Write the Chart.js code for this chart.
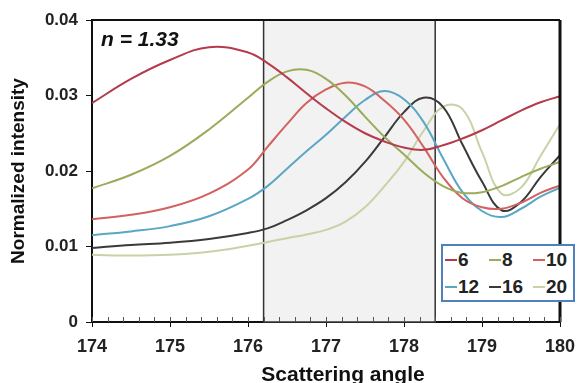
<!DOCTYPE html>
<html>
<head>
<meta charset="utf-8">
<script src="https://cdn.jsdelivr.net/npm/chart.js@4/dist/chart.umd.min.js"></script>
<style>
body{margin:0;background:#fff;}
#wrap{position:relative;width:578px;height:383px;}
#note{position:absolute;left:101px;top:27px;font:italic bold 21px Arial,"Liberation Sans",sans-serif;color:#111;}
#legend{position:absolute;left:441px;top:244px;width:130px;height:54px;border:2px solid #4f81bd;background:#fff;
display:grid;grid-template-columns:44px 44px 42px;grid-template-rows:27px 27px;
font:bold 19px Arial,"Liberation Sans",sans-serif;color:#222;}
#legend span{display:flex;align-items:center;}
#legend i{display:inline-block;width:12px;height:2px;margin:0 1px 0 2px;}
</style>
</head>
<body>
<div id="wrap">
<canvas id="chart"></canvas>
<div id="note">n = 1.33</div>
<div id="legend"></div>
</div>
<script>
const angles = [174,174.5,175,175.5,176,176.25,176.5,176.75,177,177.25,177.5,177.75,178,178.25,178.5,178.75,179,179.25,179.5,179.75,180];

const s6  = [0.0290,0.0322,0.0347,0.0364,0.0357,0.0343,0.0324,0.0303,0.0283,0.0265,0.0250,0.0239,0.0231,0.0228,0.0234,0.0243,0.0254,0.0267,0.0280,0.0291,0.0299];
const s8  = [0.0177,0.0195,0.0220,0.0255,0.0297,0.0318,0.0332,0.0334,0.0322,0.0300,0.0272,0.0245,0.0222,0.0198,0.0180,0.0171,0.0172,0.0180,0.0192,0.0203,0.0212];
const s10 = [0.0136,0.0142,0.0152,0.0170,0.0202,0.0232,0.0262,0.0290,0.0308,0.0317,0.0312,0.0293,0.0268,0.0232,0.0192,0.0164,0.0152,0.0150,0.0158,0.0171,0.0181];
const s12 = [0.0115,0.0120,0.0127,0.0140,0.0163,0.0180,0.0203,0.0226,0.0248,0.0272,0.0294,0.0306,0.0295,0.0265,0.0217,0.0172,0.0147,0.0139,0.0150,0.0166,0.0178];
const s16 = [0.0098,0.0102,0.0105,0.0110,0.0118,0.0124,0.0135,0.0148,0.0164,0.0185,0.0212,0.0245,0.0278,0.0297,0.0285,0.0235,0.0186,0.0148,0.0159,0.0192,0.0221];
const s20 = [0.0089,0.0088,0.0089,0.0093,0.0101,0.0106,0.0111,0.0116,0.0122,0.0133,0.0152,0.0180,0.0212,0.0253,0.0285,0.0282,0.0225,0.0170,0.0178,0.0220,0.0262];

const seriesNames = ["6","8","10","12","16","20"];
const seriesValues = [s6,s8,s10,s12,s16,s20];
const seriesColors = ["#b53a4c","#9aab5a","#d2625f","#5aa7c5","#3a3a3a","#c6d3a6"];

const shadeFrom = 176.2;
const shadeTo = 178.4;

const font = 'Arial, "Liberation Sans", sans-serif';

// shaded angle range + frame + minor ticks + x title
const framePlugin = {
  id:"frame",
  beforeDatasetsDraw(chart){
    const {ctx, chartArea:a, scales:{x}} = chart;
    const x1 = x.getPixelForValue(shadeFrom), x2 = x.getPixelForValue(shadeTo);
    ctx.save();
    ctx.fillStyle = "#f2f2f2";
    ctx.fillRect(x1, a.top, x2 - x1, a.bottom - a.top);
    ctx.strokeStyle = "#333";
    ctx.lineWidth = 1.5;
    ctx.strokeRect(x1, a.top, x2 - x1, a.bottom - a.top);
    ctx.restore();
  },
  afterDatasetsDraw(chart){
    const {ctx, chartArea:a, scales:{x}} = chart;
    ctx.save();
    ctx.strokeStyle = "#111";
    ctx.lineWidth = 2;
    ctx.beginPath();
    ctx.moveTo(a.left, a.top);
    ctx.lineTo(a.right, a.top);
    ctx.stroke();
    ctx.lineWidth = 3;
    ctx.beginPath();
    ctx.moveTo(a.right, a.top);
    ctx.lineTo(a.right, a.bottom);
    ctx.stroke();
    ctx.lineWidth = 1;
    ctx.strokeStyle = "#555";
    for(let v = 174; v <= 180.001; v += 0.2){
      const px = Math.round(x.getPixelForValue(v)) + 0.5;
      ctx.beginPath();
      ctx.moveTo(px, a.bottom);
      ctx.lineTo(px, a.bottom - 5);
      ctx.stroke();
    }
    ctx.fillStyle = "#111";
    ctx.font = "bold 21px " + font;
    ctx.textAlign = "center";
    ctx.textBaseline = "alphabetic";
    ctx.fillText("Scattering angle", 343, 381);
    ctx.restore();
  }
};

new Chart(document.getElementById("chart"),{
  type:"line",
  data:{
    datasets: seriesNames.map((n,i)=>({
      label:n,
      data: angles.map((a,j)=>({x:a,y:seriesValues[i][j]})),
      borderColor:seriesColors[i],
      borderWidth:2,
      pointRadius:0,
      fill:false,
      tension:0.4
    }))
  },
  options:{
    responsive:true,
    maintainAspectRatio:false,
    devicePixelRatio:1,
    animation:false,
    layout:{padding:{left:6,top:20,right:18,bottom:0}},
    plugins:{legend:{display:false},tooltip:{enabled:false}},
    scales:{
      x:{
        type:"linear",min:174,max:180,
        afterFit(s){ s.height = 61; s.paddingLeft = 0; s.paddingRight = 0; },
        ticks:{stepSize:1,color:"#222",font:{family:font,size:18,weight:"bold"},padding:9},
        grid:{drawOnChartArea:false,tickLength:5,color:"#111",tickWidth:1},
        border:{color:"#111",width:2}
      },
      y:{
        min:0,max:0.04,
        afterFit(s){ s.width = 86; },
        ticks:{stepSize:0.01,color:"#222",font:{family:font,size:17,weight:"bold"},padding:8},
        grid:{drawOnChartArea:false,tickLength:6,color:"#111",tickWidth:1},
        border:{color:"#111",width:2},
        title:{display:true,text:"Normalized intensity",color:"#111",font:{family:font,size:19,weight:"bold"},padding:{top:1,bottom:0}}
      }
    }
  },
  plugins:[framePlugin]
});

const legend = document.getElementById("legend");
seriesNames.forEach((n,i)=>{
  const s = document.createElement("span");
  s.innerHTML = '<i style="background:'+seriesColors[i]+'"></i>' + n;
  legend.appendChild(s);
});
</script>
</body>
</html>
